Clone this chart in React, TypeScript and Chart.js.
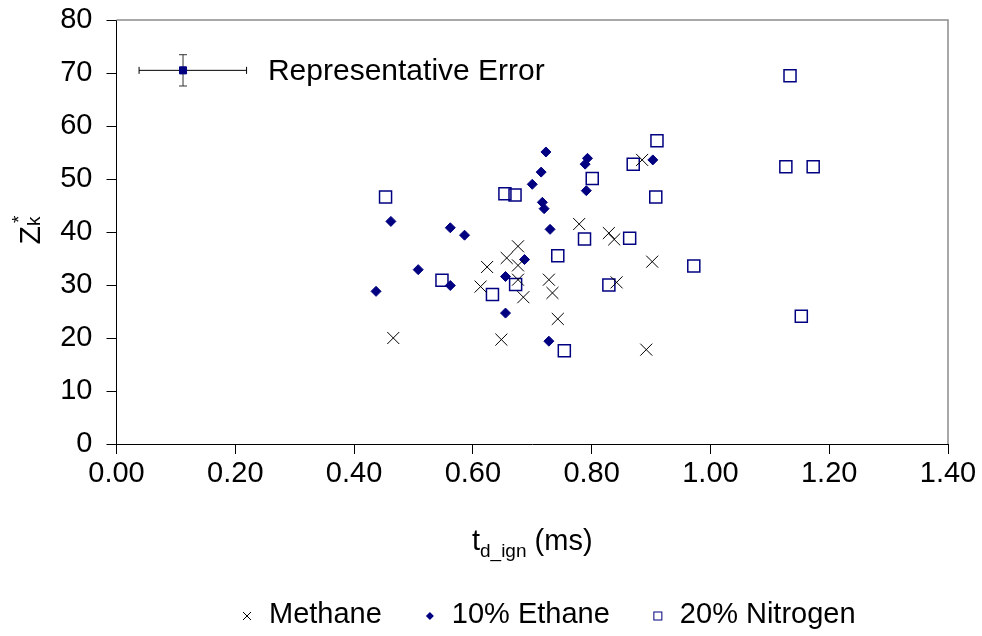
import React, { useEffect, useRef } from 'react';
import { Chart, registerables } from 'chart.js';

Chart.register(...registerables);

const FONT = '"Liberation Sans", Arial, Helvetica, sans-serif';
const FS = 29;

const seriesNames = ['Methane', '10% Ethane', '20% Nitrogen'];

const methaneX = [0.466, 0.648, 0.676, 0.657, 0.676, 0.624, 0.613, 0.676, 0.685, 0.779, 0.829, 0.838, 0.902, 0.728, 0.734, 0.842, 0.743, 0.892, 0.885];
const methaneY = [20.0, 19.7, 37.3, 35.1, 33.7, 33.4, 29.7, 31.0, 27.7, 41.5, 39.8, 38.6, 34.4, 31.0, 28.5, 30.5, 23.6, 17.8, 53.6];

const ethaneX = [0.462, 0.562, 0.586, 0.508, 0.437, 0.562, 0.655, 0.687, 0.655, 0.723, 0.793, 0.789, 0.715, 0.700, 0.791, 0.717, 0.720, 0.730, 0.728, 0.903];
const ethaneY = [42.0, 40.8, 39.4, 32.9, 28.8, 29.9, 31.6, 34.8, 24.7, 55.1, 53.9, 52.8, 51.3, 49.0, 47.8, 45.6, 44.4, 40.5, 19.4, 53.6];

const nitrogenX = [0.453, 0.654, 0.671, 0.548, 0.672, 0.633, 0.910, 0.870, 0.801, 0.908, 0.788, 0.864, 0.743, 0.972, 0.829, 0.754, 1.134, 1.127, 1.173, 1.153];
const nitrogenY = [46.6, 47.2, 47.0, 30.9, 30.1, 28.2, 57.2, 52.8, 50.1, 46.6, 38.7, 38.8, 35.5, 33.6, 30.0, 17.6, 69.5, 52.3, 52.3, 24.1];

// Representative error point (asymmetric horizontal error)
const errX = 0.112;
const errY = 70.5;
const errXMinus = 0.074;
const errXPlus = 0.107;
const errDY = 2.95;
const errLabel = 'Representative Error';
const errLabelX = 0.255;

const xMin = 0, xMax = 1.4, xStep = 0.2;
const yMin = 0, yMax = 80, yStep = 10;

const NAVY = '#000080';

const zip = (xs: number[], ys: number[]) => xs.map((x, i) => ({ x, y: ys[i] }));

function drawMarker(ctx: CanvasRenderingContext2D, kind: string, x: number, y: number, s: number) {
  ctx.save();
  if (kind === 'cross') {
    ctx.strokeStyle = '#000';
    ctx.lineWidth = 1;
    ctx.beginPath();
    ctx.moveTo(x - s, y - s); ctx.lineTo(x + s, y + s);
    ctx.moveTo(x - s, y + s); ctx.lineTo(x + s, y - s);
    ctx.stroke();
  } else if (kind === 'diamond') {
    ctx.fillStyle = NAVY;
    ctx.beginPath();
    ctx.moveTo(x, y - s); ctx.lineTo(x + s, y); ctx.lineTo(x, y + s); ctx.lineTo(x - s, y);
    ctx.closePath();
    ctx.fill();
  } else {
    ctx.strokeStyle = NAVY;
    ctx.lineWidth = 1;
    ctx.strokeRect(x - s, y - s, 2 * s, 2 * s);
  }
  ctx.restore();
}

const customPlugin = {
  id: 'custom',
  beforeDatasetsDraw(chart: any) {
    const ctx = chart.ctx as CanvasRenderingContext2D;
    const xs = chart.scales.x, ys = chart.scales.y;
    const cx = xs.getPixelForValue(errX), cy = ys.getPixelForValue(errY);
    const x1 = xs.getPixelForValue(errX - errXMinus), x2 = xs.getPixelForValue(errX + errXPlus);
    const y1 = ys.getPixelForValue(errY + errDY), y2 = ys.getPixelForValue(errY - errDY);
    ctx.save();
    ctx.strokeStyle = '#000';
    ctx.lineWidth = 1;
    ctx.beginPath();
    ctx.moveTo(x1, cy); ctx.lineTo(x2, cy);
    ctx.moveTo(x1, cy - 3.5); ctx.lineTo(x1, cy + 3.5);
    ctx.moveTo(x2, cy - 3.5); ctx.lineTo(x2, cy + 3.5);
    ctx.stroke();
    ctx.strokeStyle = '#333';
    ctx.beginPath();
    ctx.moveTo(cx, y1); ctx.lineTo(cx, y2);
    ctx.moveTo(cx - 4, y1); ctx.lineTo(cx + 4, y1);
    ctx.moveTo(cx - 4, y2); ctx.lineTo(cx + 4, y2);
    ctx.stroke();
    ctx.fillStyle = '#000';
    ctx.font = `30px ${FONT}`;
    ctx.textBaseline = 'middle';
    ctx.textAlign = 'left';
    ctx.fillText(errLabel, xs.getPixelForValue(errLabelX), cy + 1);
    ctx.restore();
  },
  afterDraw(chart: any) {
    const ctx = chart.ctx as CanvasRenderingContext2D;
    const a = chart.chartArea;
    ctx.save();
    // gray plot-area border (top and right)
    ctx.strokeStyle = '#8c8c8c';
    ctx.lineWidth = 1.5;
    ctx.beginPath();
    ctx.moveTo(a.left, a.top); ctx.lineTo(a.right, a.top); ctx.lineTo(a.right, a.bottom);
    ctx.stroke();

    // X axis title: t_{d_ign} (ms)
    ctx.fillStyle = '#000';
    ctx.textBaseline = 'alphabetic';
    ctx.textAlign = 'left';
    const big = `${FS}px ${FONT}`;
    const small = `19px ${FONT}`;
    ctx.font = big;
    const wT = ctx.measureText('t').width;
    const wMs = ctx.measureText(' (ms)').width;
    ctx.font = small;
    const wSub = ctx.measureText('d_ign').width;
    const total = wT + wSub + wMs;
    let x0 = (a.left + a.right) / 2 - total / 2;
    const bl = 550;
    ctx.font = big; ctx.fillText('t', x0, bl); x0 += wT;
    ctx.font = small; ctx.fillText('d_ign', x0, bl + 7); x0 += wSub;
    ctx.font = big; ctx.fillText(' (ms)', x0, bl);

    // Y axis title: Z_k^*
    ctx.save();
    ctx.translate(40, 229);
    ctx.rotate(-Math.PI / 2);
    ctx.font = `30px ${FONT}`;
    const wZ = ctx.measureText('Z').width;
    ctx.font = small;
    const wk = ctx.measureText('k').width;
    const tot2 = wZ + wk + 3;
    let y0 = -tot2 / 2;
    ctx.font = `30px ${FONT}`; ctx.fillText('Z', y0, 0); y0 += wZ;
    ctx.font = small; ctx.fillText('k', y0, 0);
    ctx.fillText('*', y0 + 3, -15);
    ctx.restore();

    // Legend
    const kinds = ['cross', 'diamond', 'square'];
    const sizes = [4, 4, 4];
    let lx = 247;
    const ly = 615;
    ctx.font = big;
    ctx.textBaseline = 'middle';
    seriesNames.forEach((name, i) => {
      drawMarker(ctx, kinds[i], lx, ly + 1, sizes[i]);
      const tx = lx + 22;
      ctx.fillStyle = '#000';
      ctx.fillText(name, tx, ly);
      lx = tx + ctx.measureText(name).width + 48;
    });
    ctx.restore();
  },
};

export default function App() {
  const ref = useRef<HTMLCanvasElement | null>(null);
  useEffect(() => {
    if (!ref.current) return;
    const chart = new Chart(ref.current, {
      type: 'scatter',
      data: {
        datasets: [
          {
            label: seriesNames[0],
            data: zip(methaneX, methaneY),
            pointStyle: 'crossRot',
            radius: 8.5,
            borderColor: '#000',
            backgroundColor: '#000',
            borderWidth: 1,
          },
          {
            label: seriesNames[1],
            data: zip(ethaneX, ethaneY),
            pointStyle: 'rectRot',
            radius: 5,
            borderColor: NAVY,
            backgroundColor: NAVY,
            borderWidth: 1,
          },
          {
            label: seriesNames[2],
            data: zip(nitrogenX, nitrogenY),
            pointStyle: 'rect',
            radius: 8.5,
            borderColor: NAVY,
            backgroundColor: 'rgba(255,255,255,0)',
            borderWidth: 1.5,
          },
          {
            label: 'err',
            data: [{ x: errX, y: errY }],
            pointStyle: 'rect',
            radius: 5,
            borderColor: NAVY,
            backgroundColor: NAVY,
            borderWidth: 1,
          },
        ],
      },
      options: {
        animation: false,
        responsive: true,
        maintainAspectRatio: false,
        layout: { padding: { top: 20, right: 34, left: 0, bottom: 0 } },
        plugins: { legend: { display: false }, tooltip: { enabled: false } },
        scales: {
          x: {
            type: 'linear',
            min: xMin,
            max: xMax,
            afterFit: (s: any) => { s.height = 192; s.paddingLeft = 0; s.paddingRight = 0; },
            afterBuildTicks: (s: any) => {
              const t = [];
              for (let v = xMin; v <= xMax + 1e-9; v += xStep) t.push({ value: +v.toFixed(2) });
              s.ticks = t;
            },
            ticks: {
              callback: (v: any) => Number(v).toFixed(2),
              font: { family: FONT, size: FS },
              color: '#000',
              padding: 3,
              maxRotation: 0,
              autoSkip: false,
            },
            grid: { drawOnChartArea: false, tickLength: 10, tickColor: '#000', color: '#000' },
            border: { color: '#000', width: 1 },
          },
          y: {
            type: 'linear',
            min: yMin,
            max: yMax,
            afterFit: (s: any) => { s.width = 116.5; s.paddingTop = 0; s.paddingBottom = 0; },
            ticks: {
              stepSize: yStep,
              font: { family: FONT, size: FS },
              color: '#000',
              padding: 14,
            },
            grid: { drawOnChartArea: false, tickLength: 10, tickColor: '#000', color: '#000' },
            border: { color: '#000', width: 1 },
          },
        },
      },
      plugins: [customPlugin],
    });
    return () => chart.destroy();
  }, []);
  return (
    <div style={{ position: 'fixed', left: 0, top: 0, width: 982, height: 636, background: '#fff' }}>
      <canvas ref={ref} />
    </div>
  );
}
